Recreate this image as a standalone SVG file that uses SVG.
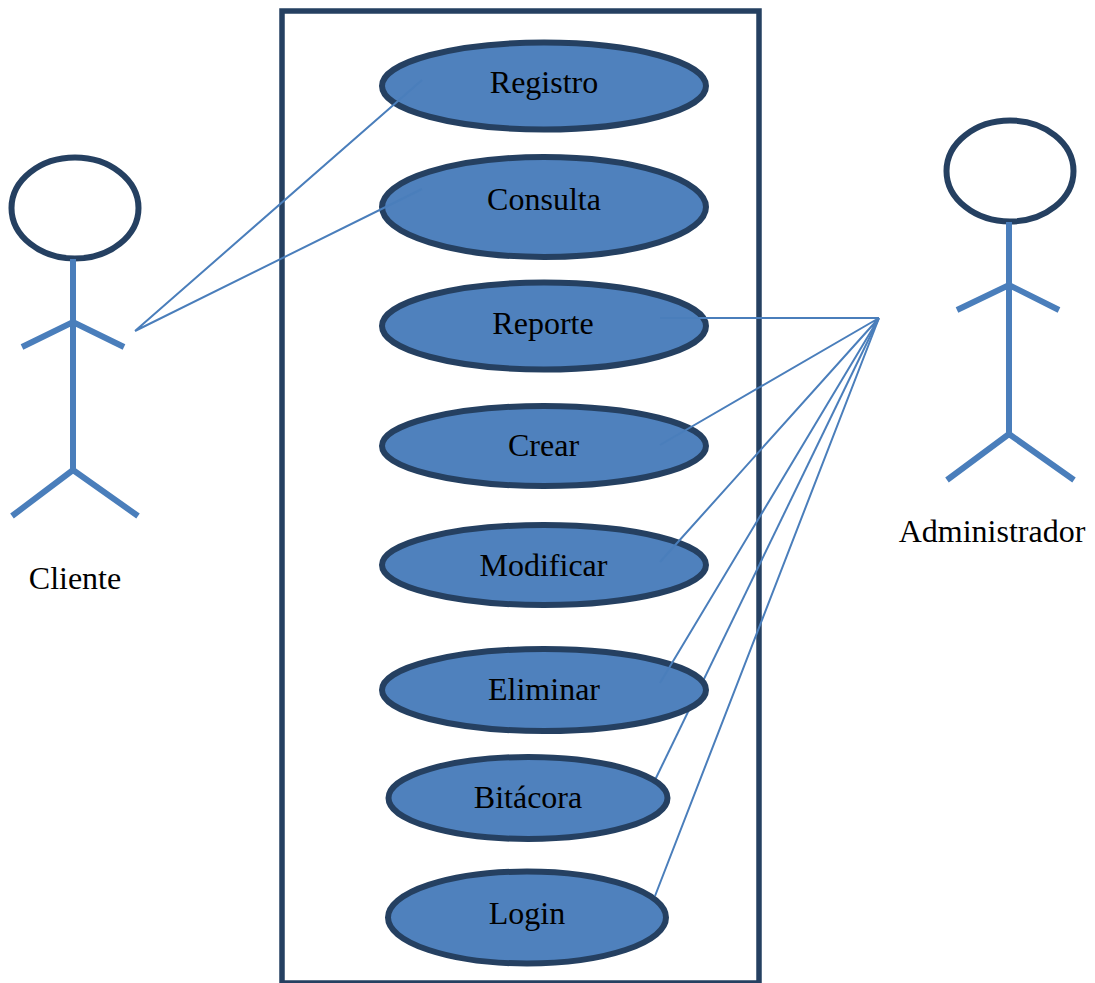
<svg xmlns="http://www.w3.org/2000/svg" width="1095" height="983" viewBox="0 0 1095 983">
<style>
.uc{fill:#4f81bd;stroke:#254061;stroke-width:6}
.head{fill:#fff;stroke:#254061;stroke-width:6}
.limb{fill:none;stroke:#4a7ebb;stroke-width:6}
.c{fill:none;stroke:#4a7ebb;stroke-width:2}
text{font-family:"Liberation Serif","Times New Roman",serif;font-size:32px;fill:#000;text-anchor:middle}
</style>
<rect width="1095" height="983" fill="#fff"/>
<rect id="system" x="282" y="11" width="477" height="972" fill="none" stroke="#254061" stroke-width="5.5"/>
<g id="connectors-behind"><path class="c" d="M655 780L879 318"/></g>
<g id="uc-registro"><ellipse class="uc" cx="544" cy="86" rx="162" ry="43.500"/><text x="544" y="92.500">Registro</text></g>
<g id="uc-consulta"><ellipse class="uc" cx="544" cy="207" rx="162" ry="50"/><text x="544" y="209.500">Consulta</text></g>
<g id="uc-reporte"><ellipse class="uc" cx="544" cy="326" rx="162" ry="43.500"/><text x="543" y="333.500">Reporte</text></g>
<g id="uc-crear"><ellipse class="uc" cx="544" cy="446" rx="162" ry="40"/><text x="543.500" y="455.500">Crear</text></g>
<g id="uc-modificar"><ellipse class="uc" cx="544" cy="565" rx="162" ry="40"/><text x="543.500" y="575.500">Modificar</text></g>
<g id="uc-eliminar"><ellipse class="uc" cx="544" cy="690" rx="162" ry="41"/><text x="544" y="699.500">Eliminar</text></g>
<g id="uc-bitacora"><ellipse class="uc" cx="528" cy="798" rx="139.500" ry="41"/><text x="528" y="807.500">Bitácora</text></g>
<g id="uc-login"><ellipse class="uc" cx="527" cy="917.500" rx="139" ry="46"/><text x="527" y="923.500">Login</text></g>
<g id="connectors">
<path class="c" d="M135 331L422 80M135 331L422 189M660 318H879M660 445L879 318M660 562L879 318M660 683L879 318M655 896L879 318"/>
</g>
<g id="actor-cliente">
<ellipse class="head" cx="75" cy="208" rx="63.500" ry="50.500"/>
<path class="limb" d="M73 259V470M22 347L73 322L124 347M12 516L73 470L138 516"/>
<text x="75" y="588.500">Cliente</text>
</g>
<g id="actor-administrador">
<ellipse class="head" cx="1010" cy="171" rx="63.500" ry="50.500"/>
<path class="limb" d="M1009 222V434M957 310L1009 285L1059 310M947 480L1009 434L1074 480"/>
<text x="992" y="541.500">Administrador</text>
</g>
</svg>
